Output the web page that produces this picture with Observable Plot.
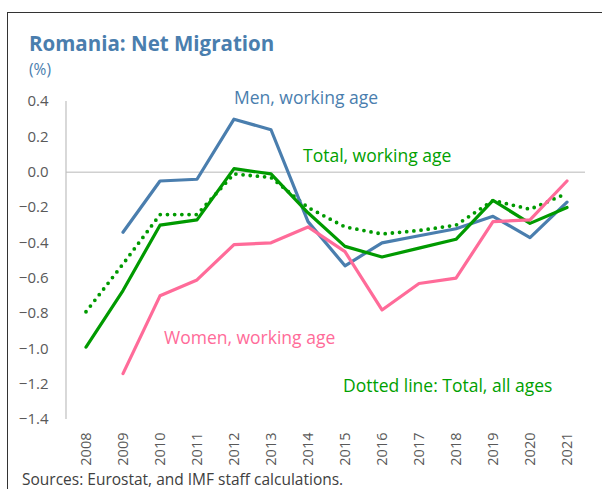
<!DOCTYPE html>
<html>
<head>
<meta charset="utf-8">
<script src="https://cdn.jsdelivr.net/npm/d3@7"></script>
<script src="https://cdn.jsdelivr.net/npm/@observablehq/plot@0.6"></script>
<style>
  html, body { margin: 0; padding: 0; background: #fff; }
  #wrap { position: relative; width: 602px; height: 489px; overflow: hidden; font-family: "Open Sans", sans-serif; }
  #frame { position: absolute; left: 7px; top: 12px; width: 620px; height: 500px; border-left: 1.5px solid #333; border-top: 1.5px solid #333; box-sizing: border-box; }
  #title { position: absolute; left: 29px; top: 30px; font-size: 20.5px; line-height: 1.362; font-weight: bold; color: #4a7eae; white-space: nowrap; }
  #unit { position: absolute; left: 29px; top: 59px; font-size: 15.5px; line-height: 1.362; color: #4a7eae; }
  #source { position: absolute; left: 22px; top: 469px; font-size: 15.5px; line-height: 1.362; color: #404040; white-space: nowrap; }
  #chart { position: absolute; left: 0; top: 0; }
</style>
</head>
<body>
<div id="wrap">
  <div id="frame"></div>
  <div id="chart"></div>
  <div id="title">Romania: Net Migration</div>
  <div id="unit">(%)</div>
  <div id="source">Sources: Eurostat, and IMF staff calculations.</div>
</div>
<script>
const years = ["2008","2009","2010","2011","2012","2013","2014","2015","2016","2017","2018","2019","2020","2021"];
const men        = [null, -0.34, -0.05, -0.04, 0.30, 0.24, -0.28, -0.53, -0.40, -0.36, -0.32, -0.25, -0.37, -0.17];
const women      = [null, -1.14, -0.70, -0.61, -0.41, -0.40, -0.31, -0.45, -0.78, -0.63, -0.60, -0.28, -0.27, -0.05];
const totalWork  = [-0.99, -0.67, -0.30, -0.27, 0.02, -0.01, -0.23, -0.42, -0.48, -0.43, -0.38, -0.16, -0.29, -0.20];
const totalAll   = [-0.79, -0.52, -0.24, -0.24, -0.01, -0.03, -0.20, -0.31, -0.35, -0.33, -0.30, -0.16, -0.21, -0.12];
const yTicks = [0.4, 0.2, 0.0, -0.2, -0.4, -0.6, -0.8, -1.0, -1.2, -1.4];
const labelMen    = {text: "Men, working age", year: "2012", value: 0.42};
const labelTotal  = {text: "Total, working age", year: "2014", value: 0.088};
const labelWomen  = {text: "Women, working age", year: "2010", value: -0.94};
const labelDotted = {text: "Dotted line: Total, all ages", year: "2015", value: -1.21};

const toRows = (vals) => years.map((y, i) => ({year: y, value: vals[i]})).filter(d => d.value != null);

const colors = {men: "#4a7eae", women: "#ff6b99", green: "#009a00", greenText: "#00a000"};
const labelMark = (d, fill, dx) => Plot.text([d], {x: "year", y: "value", text: "text", fill, textAnchor: "start", fontSize: 17.5, dx});

const plot = Plot.plot({
  width: 602,
  height: 489,
  marginLeft: 66,
  marginRight: 17,
  marginTop: 101,
  marginBottom: 70,
  style: {fontFamily: "Open Sans, sans-serif", background: "transparent", overflow: "visible"},
  x: {type: "band", domain: years, padding: 0, label: null},
  y: {domain: [-1.4, 0.4], label: null},
  marks: [
    Plot.ruleY([0], {stroke: "#d0d0d0", strokeWidth: 1.5}),
    Plot.axisY({ticks: yTicks, tickFormat: d3.format(".1f"), tickSize: 0, tickPadding: 18, fontSize: 15, color: "#595959", label: null}),
    Plot.axisX({tickSize: 0, tickPadding: 13, tickRotate: -90, fontSize: 14.5, color: "#595959", label: null}),
    Plot.line(toRows(totalAll), {x: "year", y: "value", stroke: colors.green, strokeWidth: 3.8, strokeDasharray: "0,7.2", strokeLinecap: "round"}),
    Plot.line(toRows(men), {x: "year", y: "value", stroke: colors.men, strokeWidth: 3.2}),
    Plot.line(toRows(totalWork), {x: "year", y: "value", stroke: colors.green, strokeWidth: 3.2}),
    Plot.line(toRows(women), {x: "year", y: "value", stroke: colors.women, strokeWidth: 3.2}),
    labelMark(labelMen, colors.men, 0),
    labelMark(labelTotal, colors.greenText, -5),
    labelMark(labelWomen, colors.women, 4),
    labelMark(labelDotted, colors.greenText, -2)
  ]
});
document.getElementById("chart").appendChild(plot);

// y axis line along the left edge of the plot area
const xs = plot.scale("x"), ys = plot.scale("y");
d3.select(plot).append("line")
  .attr("x1", xs.range[0]).attr("x2", xs.range[0])
  .attr("y1", ys.apply(0.4)).attr("y2", ys.apply(-1.4))
  .attr("stroke", "#bfbfbf").attr("stroke-width", 1.2);
</script>
</body>
</html>
